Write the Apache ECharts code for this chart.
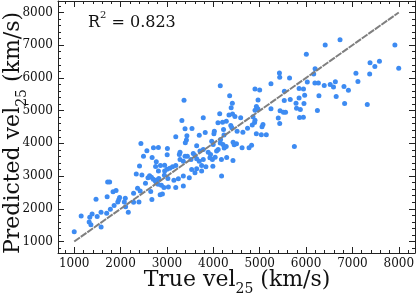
<!DOCTYPE html>
<html>
<head>
<meta charset="utf-8">
<script src="https://cdn.jsdelivr.net/npm/echarts@6/dist/echarts.min.js"></script>
<style>html,body{margin:0;padding:0;background:#fff}#c{width:418px;height:294px}</style>
</head>
<body>
<div id="c"></div>
<script>
var points = [
[1000,1300],[1150,1780],[1335,1741],[1322,1598],[1386,1842],[1360,1510],[1470,2290],[1495,1762],[1578,1893],[1580,1445],[1700,1865],[1710,2365],[1721,2817],[1764,2817],[1779,1990],[1837,2520],[1902,2560],[1860,2100],[1960,2280],[1979,2345],[1940,2210],
[2080,2207],[2108,2067],[2166,1893],[2101,2320],[2280,2198],[2280,2473],[2366,2625],[2338,3061],[2396,2207],[2408,3305],[2438,3997],[2423,2543],[2460,3031],[2494,3610],[2537,2778],[2567,3775],
[2590,2950],[2625,3010],[2665,2965],[2705,2905],[2745,2860],[2785,2880],[2825,2930],[2770,2790],[2810,2750],
[2650,2530],[2675,2285],[2680,3570],[2709,3866],[2755,3290],[2770,3437],[2815,3875],[2816,3153],[2853,2430],[2902,2455],[2935,2650],[3030,2670],[2860,3320],[2950,3330],[2945,3025],[3020,2925],[3010,3840],[3005,3650],[2880,2720],
[2950,3153],[3000,3210],[3060,3240],[3120,3285],[3190,3320],
[3150,2870],[3246,2921],[3190,2650],[3353,2695],[3353,3000],[3482,2951],[3641,3226],[3748,3326],[3840,3287],[3748,3153],[3604,3104],[3533,3204],[4178,3000],[3990,3300],
[3190,4205],[3420,4105],[3396,4018],[3641,3925],[3965,4067],[3997,3967],[4156,4119],[4150,4010],[4208,3962],[4427,4037],[4500,3990],[4620,3866],[4770,3866],
[3282,3732],[3390,3610],[3568,3692],[3712,3763],[3783,3814],[3890,3732],[4070,3763],[4175,3509],[4288,3565],[4424,3475],[3980,3510],[4040,3575],[3783,3509],[3697,3457],[3518,3509],[3440,3610],[3353,3457],[3267,3662],[3282,3509],[3604,3631],[3641,3530],[3940,3662],[4105,3814],[3926,3561],
[3368,5317],[3322,4699],[3390,4445],[3540,4455],[3430,4230],[3697,4250],[3825,4333],[3783,4785],[4022,4372],[4013,4290],[4100,4628],[4199,4647],[4280,4677],[4377,4546],[4138,4903],[4150,5757],[4352,5456],[4410,5225],[4385,5090],[4338,4866],[4415,4900],[4466,4820],[4590,4781],[4230,4256],[4220,4424],[4400,4480],[4513,4372],[4638,4338],[4738,4460],[4840,4560],[4890,4640],[4928,4290],[4929,5125],[4899,5660],[5000,5630],[4235,3855],[4278,3905],[4450,3960],[4825,3943],
[4965,5328],[4900,5010],[4960,5060],[4856,4811],[4899,4708],[5071,4576],[5050,4506],[5036,4262],[5143,4262],
[5243,5820],[5426,6152],[5432,6018],[5644,6000],[5533,5592],[5659,5339],[5530,5308],[5243,5055],[5440,4994],[5512,4951],[5558,4951],[5401,4775],[5432,4607],[5850,5674],[5945,5660],[5970,5470],[5850,5385],[5784,5228],[5795,5075],[5877,5034],[5955,5217],[5859,4790],[5942,4800],[5748,3905],[6006,6720],[6027,5878],[6195,6280],[6165,6120],[6191,5848],[6266,5848],[6245,5003],[6278,5456],[6413,7006],[6392,5766],[6521,5796],[6592,5720],[6632,5885],[6650,5435],[6733,7163],[6818,5735],[6914,5623],[6832,5221],[7076,6141],[7119,5888],[7321,5186],[7372,6122],[7380,6467],[7484,6345],[7583,6507],[7916,7006],[7999,6293]
];
var trueVel = points.map(function(p){return p[0];});
var predVel = points.map(function(p){return p[1];});
var majorTicks = [1000,2000,3000,4000,5000,6000,7000,8000];
var minorTicks = [800,1200,1400,1600,1800,2200,2400,2600,2800,3200,3400,3600,3800,4200,4400,4600,4800,5200,5400,5600,5800,6200,6400,6600,6800,7200,7400,7600,7800,8200];
var axisMin = 650, axisMax = 8350;
var identityLine = [[1000,1000],[8000,8000]];
var r2 = 0.823;
var xTitle = ['True vel', '25', ' (km/s)'];
var yTitle = ['Predicted vel', '25', ' (km/s)'];

var FONT = 'DejaVu Serif';
var chart = echarts.init(document.getElementById('c'), null, {renderer:'canvas'});

function mkAxis(pos, ticks, len, showLine, labels) {
  return {
    type:'value', position:pos, min:axisMin, max:axisMax,
    splitLine:{show:false},
    axisLine:{show:showLine, onZero:false, lineStyle:{color:'#222', width:1}},
    axisTick:{show:true, inside:true, length:len, customValues:ticks, lineStyle:{color:'#222', width:1}},
    axisLabel:{show:labels, customValues:ticks, color:'#111', fontFamily:FONT, fontSize:12, margin:5,
               formatter:function(v){return String(v);}},
    minorTick:{show:false}
  };
}
var richName = {
  n:{fontFamily:FONT, fontSize:22, fill:'#111', lineHeight:24},
  s:{fontFamily:FONT, fontSize:14, fill:'#111', lineHeight:32, verticalAlign:'bottom'}
};
function titleText(parts){ return '{n|' + parts[0] + '}{s|' + parts[1] + '}{n|' + parts[2] + '}'; }
chart.setOption({
  animation:false,
  grid:{left:58, right:3, top:1, bottom:41, outerBoundsMode:'none', containLabel:false},
  xAxis:[
    mkAxis('bottom', majorTicks, 6, true, true),
    mkAxis('bottom', minorTicks, 3, false, false),
    mkAxis('top', majorTicks, 6, true, false),
    mkAxis('top', minorTicks, 3, false, false)
  ],
  yAxis:[
    mkAxis('left', majorTicks, 6, true, true),
    mkAxis('left', minorTicks, 3, false, false),
    mkAxis('right', majorTicks, 6, true, false),
    mkAxis('right', minorTicks, 3, false, false)
  ],
  graphic:[{
    type:'text', left:88, top:10,
    style:{
      text:'{n|R}{p|2}{n| = ' + r2.toFixed(3) + '}',
      rich:{
        n:{fontFamily:FONT, fontSize:16, fill:'#111', lineHeight:18},
        p:{fontFamily:FONT, fontSize:10, fill:'#111', lineHeight:26, verticalAlign:'top'}
      }
    }
  },{
    type:'text', x:237, y:280,
    style:{text:titleText(xTitle), x:0, y:0, align:'center', verticalAlign:'middle', rich:richName}
  },{
    type:'text', x:13, y:133, rotation:Math.PI/2,
    style:{text:titleText(yTitle), x:0, y:0, align:'center', verticalAlign:'middle', rich:richName}
  }],
  series:[
    {type:'scatter', xAxisIndex:0, yAxisIndex:0, symbolSize:5,
     data:trueVel.map(function(v,i){return [v, predVel[i]];}),
     itemStyle:{color:'#3d8bf2', opacity:1}, silent:true, z:2},
    {type:'line', xAxisIndex:0, yAxisIndex:0, data:identityLine, showSymbol:false, symbol:'none',
     lineStyle:{color:'#7f7f7f', width:2, type:[7,1]}, silent:true, z:3}
  ]
});
</script>
</body>
</html>
